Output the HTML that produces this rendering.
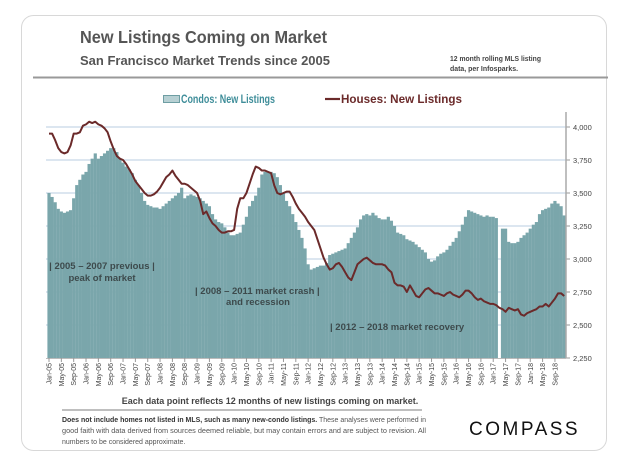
<!DOCTYPE html>
<html><head><meta charset="utf-8"><style>
html,body{margin:0;padding:0;background:#fff;}
body{width:630px;height:464px;overflow:hidden;font-family:"Liberation Sans",sans-serif;}
svg text{font-family:"Liberation Sans",sans-serif;}
</style></head><body>
<svg id="chart" width="630" height="464" viewBox="0 0 630 464">
<rect x="21.5" y="15.5" width="585" height="435" rx="12" fill="#fff" stroke="#d8d8d8"/>
<text x="80" y="43" font-size="17.5" font-weight="bold" fill="#555" textLength="247" lengthAdjust="spacingAndGlyphs">New Listings Coming on Market</text>
<text x="80" y="65" font-size="12.5" font-weight="bold" fill="#555" textLength="250" lengthAdjust="spacingAndGlyphs">San Francisco Market Trends since 2005</text>
<text x="450" y="61" font-size="7" font-weight="bold" fill="#444" textLength="91" lengthAdjust="spacingAndGlyphs">12 month rolling MLS listing</text>
<text x="450" y="71" font-size="7" font-weight="bold" fill="#444" textLength="68" lengthAdjust="spacingAndGlyphs">data, per Infosparks.</text>
<line x1="33" y1="77.5" x2="608" y2="77.5" stroke="#999" stroke-width="2"/>
<g>
<rect x="163.5" y="95.5" width="16" height="7" fill="#b7d0d3" stroke="#6e9ea3"/>
<text x="181" y="103" font-size="12" font-weight="bold" fill="#3e8d99" textLength="94" lengthAdjust="spacingAndGlyphs">Condos: New Listings</text>
<line x1="325" y1="99" x2="340" y2="99" stroke="#6b2a2a" stroke-width="2.2"/>
<text x="341" y="103" font-size="12" font-weight="bold" fill="#6b2a2a" textLength="121" lengthAdjust="spacingAndGlyphs">Houses: New Listings</text>
</g>
<g id="grid"></g><g id="bars"></g><g id="notes"></g><g id="line"></g><g id="axes"></g>
<text x="270" y="404" text-anchor="middle" font-size="9" font-weight="bold" fill="#444">Each data point reflects 12 months of new listings coming on market.</text>
<line x1="62" y1="410" x2="422" y2="410" stroke="#999" stroke-width="1.2"/>
<g font-size="7" fill="#555">
<text x="62" y="422" textLength="364" lengthAdjust="spacingAndGlyphs"><tspan font-weight="bold" fill="#333">Does not include homes not listed in MLS, such as many new-condo listings.</tspan> These analyses were performed in</text>
<text x="62" y="433" textLength="364" lengthAdjust="spacingAndGlyphs">good faith with data derived from sources deemed reliable, but may contain errors and are subject to revision. All</text>
<text x="62" y="444">numbers to be considered approximate.</text>
</g>
<text x="469" y="435" font-size="19" letter-spacing="2.5" fill="#111">COMPASS</text>
</svg>
<script>
const yTicks=[2250,2500,2750,3000,3250,3500,3750,4000];
const yTickLabels=["2,250","2,500","2,750","3,000","3,250","3,500","3,750","4,000"];
const monthNames=["Jan","May","Sep"];
const condos=[3500,3470,3430,3380,3360,3350,3360,3370,3460,3560,3600,3640,
3660,3720,3760,3800,3760,3780,3800,3820,3840,3840,3810,3760,
3730,3700,3680,3650,3600,3560,3500,3440,3410,3400,3390,3390,
3380,3400,3420,3440,3460,3480,3500,3540,3460,3480,3490,3480,
3470,3460,3440,3420,3400,3340,3300,3280,3270,3240,3200,3180,
3180,3190,3200,3260,3320,3400,3440,3480,3540,3640,3660,3660,
3660,3650,3620,3560,3500,3440,3400,3340,3280,3220,3160,3080,
2960,2920,2930,2940,2950,2950,2970,3030,3040,3050,3060,3070,
3080,3120,3160,3200,3240,3300,3330,3340,3330,3350,3330,3310,
3300,3300,3320,3290,3250,3200,3190,3180,3150,3140,3130,3110,
3090,3070,3050,3000,2980,2990,3020,3040,3050,3070,3100,3130,
3160,3210,3260,3320,3370,3360,3350,3340,3330,3320,3330,3320,
3320,3310,null,3230,3230,3130,3120,3120,3130,3160,3180,3200,
3230,3260,3280,3340,3370,3380,3390,3420,3440,3420,3400,3330];
const houses=[3950,3950,3900,3840,3810,3800,3810,3860,3950,3950,3960,4010,
4020,4040,4030,4040,4020,4010,3990,3960,3890,3830,3780,3760,
3750,3720,3680,3640,3590,3560,3530,3500,3480,3480,3490,3510,
3540,3580,3620,3640,3670,3630,3600,3570,3570,3560,3540,3520,
3500,3440,3340,3360,3310,3270,3250,3220,3200,3200,3210,3210,
3220,3380,3460,3460,3500,3570,3640,3700,3690,3670,3670,3660,
3650,3560,3500,3490,3500,3510,3510,3470,3420,3380,3350,3320,
3280,3250,3220,3150,3080,3010,2960,2920,2930,2960,2970,2940,
2900,2860,2840,2900,2960,2980,3000,3010,2990,2970,2960,2960,
2960,2950,2920,2900,2820,2800,2800,2790,2750,2800,2760,2720,
2710,2740,2770,2780,2760,2740,2740,2730,2720,2740,2750,2730,
2720,2710,2730,2760,2760,2740,2710,2690,2700,2680,2670,2660,
2660,2650,2630,2620,2600,2630,2620,2610,2620,2580,2570,2590,
2600,2610,2620,2640,2640,2660,2640,2670,2700,2740,2740,2720];
const NS="http://www.w3.org/2000/svg";
const X0=49,DX=3.085,Y0=358,Y1=127,VMIN=2250,VMAX=4000,RIGHT=566;
function xs(i){return X0+i*DX;}
function ys(v){return Y0-(v-VMIN)/(VMAX-VMIN)*(Y0-Y1);}
function mk(tag,attrs,parent){const e=document.createElementNS(NS,tag);for(const k in attrs)e.setAttribute(k,attrs[k]);parent.appendChild(e);return e;}
const grid=document.getElementById('grid'),bars=document.getElementById('bars'),line=document.getElementById('line'),axes=document.getElementById('axes'),notes=document.getElementById('notes');
yTicks.forEach((t,k)=>{
 if(t>VMIN){const g=mk('line',{x1:46,x2:RIGHT,y1:ys(t),y2:ys(t),stroke:'#b9cde0','stroke-width':1},grid);
 
 }
 const tk=mk('line',{x1:RIGHT,x2:RIGHT+4,y1:ys(t),y2:ys(t),stroke:'#999'},axes);
 
 
 const tx=mk('text',{x:RIGHT+7,y:ys(t)+3,'font-size':7.5,fill:'#444'},axes);
 tx.textContent=yTickLabels[k];
 
 
});
condos.forEach((v,i)=>{
 if(v==null)return;
 const r=mk('rect',{x:xs(i)-DX/2-0.05,y:ys(v),width:DX+0.1,height:Y0-ys(v),fill:'#7aa6ab'},bars);
 
 
});
const p=mk('polyline',{points:houses.map((v,i)=>xs(i)+','+ys(v)).join(' '),fill:'none',stroke:'#6b2a2a','stroke-width':2,'stroke-linejoin':'round'},line);


const ax=mk('line',{x1:RIGHT,x2:RIGHT,y1:112,y2:Y0,stroke:'#aaa','stroke-width':1.5},axes);


const bx=mk('line',{x1:46,x2:RIGHT,y1:Y0+0.5,y2:Y0+0.5,stroke:'#bbb'},axes);


for(let i=0;i<condos.length;i+=4){
 const yr=5+Math.floor(i/12);
 const lab=monthNames[(i%12)/4]+'-'+(yr<10?'0'+yr:yr);
 const tk=mk('line',{x1:xs(i),x2:xs(i),y1:Y0,y2:Y0+4,stroke:'#999'},axes);
 
 
 const t=mk('text',{x:0,y:0,'font-size':7,fill:'#444','text-anchor':'end',transform:'translate('+(xs(i)+2.5)+','+(Y0+5)+') rotate(-90)'},axes);
 t.textContent=lab;
 
 
}
const annots=[["| 2005 – 2007 previous |",102,269,'middle'],["peak of market",102,281,'middle'],["| 2008 – 2011 market crash |",195,294,'start'],["and recession",258,305,'middle'],["| 2012 – 2018 market recovery",330,330,'start']];
annots.forEach(a=>{
 const t=mk('text',{x:a[1],y:a[2],'font-size':9.5,'font-weight':'bold',fill:'#3d4a4c','text-anchor':a[3]},notes);
 t.textContent=a[0];
 
 
});
</script>
</body></html>
